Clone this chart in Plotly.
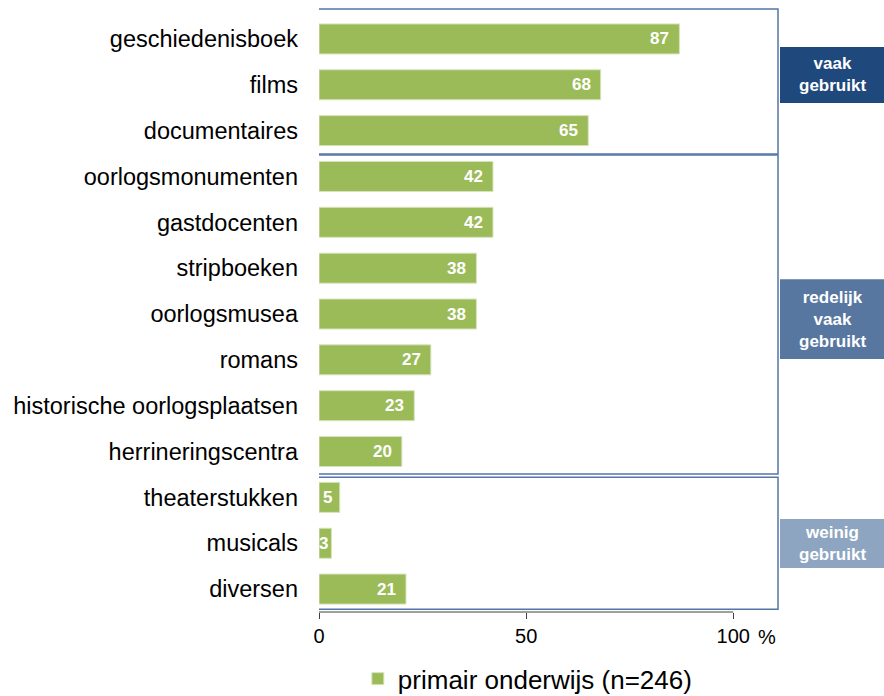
import plotly.graph_objects as go

categories = ["geschiedenisboek", "films", "documentaires", "oorlogsmonumenten",
              "gastdocenten", "stripboeken", "oorlogsmusea", "romans",
              "historische oorlogsplaatsen", "herrineringscentra",
              "theaterstukken", "musicals", "diversen"]
values = [87, 68, 65, 42, 42, 38, 38, 27, 23, 20, 5, 3, 21]
series_name = "primair onderwijs (n=246)"
x_tickvals = [0, 50, 100]
x_ticktext = ["0", "50", "100"]
group_labels = ["vaak<br>gebruikt", "redelijk<br>vaak<br>gebruikt", "weinig<br>gebruikt"]
group_colors = ["#1f497d", "#5777a1", "#8da5c1"]

FONT = "Liberation Sans, Arial, sans-serif"
W, H = 884, 696
L, R, T, B = 319, 106, 16, 84
XMAX = 110.8
px_per_unit = (W - L - R) / XMAX
N = len(categories)


def ypaper(idx):
    # category index (reversed axis, range [N-0.5, -0.5]) -> paper fraction
    return 1 - (idx + 0.5) / N


fig = go.Figure()
fig.add_trace(go.Bar(
    y=categories, x=values, orientation="h", name=series_name,
    marker=dict(color="#9bbb59", line=dict(color="#d7e4bd", width=1)),
    width=0.655, showlegend=True,
))

annotations = []
for c, v in zip(categories, values):
    bar_px = v * px_per_unit
    tw = 9.5 * len(str(v))
    shift = -min(8, max(1, (bar_px - tw) / 2))
    annotations.append(dict(x=v, y=c, xref="x", yref="y", text=str(v),
                            showarrow=False, xanchor="right", xshift=shift, yshift=0,
                            font=dict(family=FONT, size=17, color="white", weight="bold")))

annotations.append(dict(x=100, y=0, xref="x", yref="paper", text="%", showarrow=False,
                        xanchor="left", yanchor="middle", xshift=23, yshift=-25,
                        font=dict(family=FONT, size=20, color="black")))

shapes = []
boxes = [(-0.655, 2.51), (2.53, 9.49), (9.56, 12.44)]
box_color = "#5475a8"
x_left = 0.0
x_right = 1.0
for (y0, y1) in boxes:
    p0, p1 = ypaper(y0), ypaper(y1)
    shapes.append(dict(type="path", xref="paper", yref="paper",
                       path=f"M {x_left},{p0} L {x_right},{p0} L {x_right},{p1} L {x_left},{p1}",
                       line=dict(color=box_color, width=1.5)))

shapes.append(dict(type="line", xref="x", yref="paper", x0=0, x1=100, y0=0, y1=0,
                   line=dict(color="#404040", width=1)))

label_boxes = [(0.175, 1.396), (5.24, 6.98), (10.47, 11.54)]
pw = W - L - R
bx0 = (780 - L) / pw
bx1 = (884 - L) / pw
for (y0, y1), lab, col in zip(label_boxes, group_labels, group_colors):
    p0, p1 = ypaper(y0), ypaper(y1)
    shapes.append(dict(type="rect", xref="paper", yref="paper", x0=bx0, x1=bx1, y0=p0, y1=p1,
                       fillcolor=col, line=dict(width=0)))
    annotations.append(dict(x=(bx0 + bx1) / 2, y=(p0 + p1) / 2, xref="paper", yref="paper",
                            text=lab, showarrow=False, xanchor="center", yanchor="middle",
                            font=dict(family=FONT, size=17, color="white", weight="bold")))

fig.update_layout(
    width=W, height=H,
    margin=dict(l=L, r=R, t=T, b=B, autoexpand=False),
    plot_bgcolor="white", paper_bgcolor="white",
    font=dict(family=FONT, color="black"),
    xaxis=dict(range=[0, XMAX], tickvals=x_tickvals, ticktext=x_ticktext,
               ticks="outside", ticklen=6, tickcolor="#404040", tickwidth=1,
               showgrid=False, zeroline=False, showline=False,
               tickfont=dict(family=FONT, size=20, color="black")),
    yaxis=dict(range=[N - 0.5, -0.5], showgrid=False, zeroline=False, showline=False,
               ticks="", ticklabelstandoff=20,
               tickfont=dict(family=FONT, size=23.5, color="black")),
    legend=dict(orientation="h", x=0.455, xanchor="center", y=-0.112, yanchor="middle",
                font=dict(family=FONT, size=26, color="black"),
                itemwidth=30, bgcolor="rgba(0,0,0,0)"),
    shapes=shapes, annotations=annotations,
)

fig.write_html("out.html", config={"displayModeBar": False},
               post_script="document.body.style.margin='0';document.body.style.overflow='hidden';")
